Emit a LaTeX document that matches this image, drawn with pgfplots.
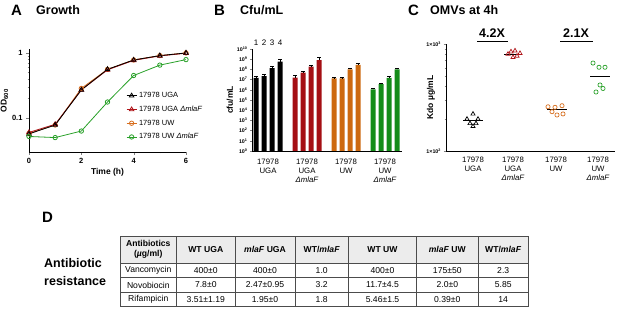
\documentclass[border=0pt]{standalone}
\usepackage{fontspec}
\setmainfont{Liberation Sans}
\setsansfont{Liberation Sans}
\usepackage{pgfplots}
\pgfplotsset{compat=1.18}
\definecolor{cred}{RGB}{175,20,25}
\definecolor{cora}{RGB}{215,110,30}
\definecolor{cgrn}{RGB}{40,160,40}
\definecolor{bred}{RGB}{165,15,20}
\definecolor{bora}{RGB}{205,105,15}
\definecolor{bgrn}{RGB}{20,140,25}
\newcommand{\fs}[1]{\fontsize{#1}{#1}\selectfont}
\begin{document}
\begin{tikzpicture}[x=1pt,y=1pt]
\path[use as bounding box] (0,0) rectangle (617,310);
% panel titles
\node[anchor=west,font=\fs{15}\bfseries,inner sep=0pt] at (11,300) {A};
\node[anchor=west,font=\fs{12.5}\bfseries,inner sep=0pt] at (36,300) {Growth};
\node[anchor=west,font=\fs{15}\bfseries,inner sep=0pt] at (214,300) {B};
\node[anchor=west,font=\fs{12.5}\bfseries,inner sep=0pt] at (240,300) {Cfu/mL};
\node[anchor=west,font=\fs{15}\bfseries,inner sep=0pt] at (408,300) {C};
\node[anchor=west,font=\fs{12.5}\bfseries,inner sep=0pt] at (430,300) {OMVs at 4h};
\node[anchor=west,font=\fs{15}\bfseries,inner sep=0pt] at (42,93) {D};

% ---------------- Panel A ----------------
\begin{axis}[at={(29pt,158pt)}, anchor=south west, scale only axis,
  width=157pt, height=103pt,
  xmin=0, xmax=6, ymode=log, ymin=0.03, ymax=1.15,
  axis x line*=bottom, axis y line*=left,
  xtick={0,2,4,6}, minor xtick={1,3,5},
  ytick={0.1,1}, yticklabels={0.1,1},
  /pgf/number format/assume math mode=true,
  tick label style={font=\fs{7.5}\bfseries},
  xlabel={\textbf{Time (h)}}, ylabel={\textbf{OD\textsubscript{600}}},
  label style={font=\fs{8.5}},
  xlabel style={yshift=2pt},
  ylabel style={at={(axis description cs:-0.11,0.5)}, anchor=south},
  tick align=outside, major tick length=3pt, minor tick length=1.5pt,
  clip=false,
  legend style={at={(0.618,0.60)}, anchor=north west, draw=none, fill=none,
    font=\fs{7.5}, row sep=2.9pt, inner sep=0pt, cells={anchor=west}},
  legend image code/.code={\draw[mark repeat=2,mark phase=2,#1] plot coordinates {(0pt,0pt) (5pt,0pt) (10pt,0pt)};},
]
\addlegendimage{black, line width=0.8pt, mark=triangle, mark size=2.6pt}
\addlegendentry{17978 UGA}
\addlegendimage{cred, line width=0.8pt, mark=triangle, mark size=2.6pt}
\addlegendentry{17978 UGA \textit{ΔmlaF}}
\addlegendimage{cora, line width=0.8pt, mark=o, mark size=2.2pt}
\addlegendentry{17978 UW}
\addlegendimage{cgrn, line width=0.8pt, mark=o, mark size=2.2pt}
\addlegendentry{17978 UW \textit{ΔmlaF}}
\addplot[forget plot, cora, line width=0.8pt, mark=o, mark size=2.2pt] coordinates {(0,0.058)(1,0.078)(2,0.285)(3,0.56)(4,0.78)(5,0.91)(6,1.0)};
\addplot[forget plot, cred, line width=0.8pt, mark=triangle, mark size=2.6pt] coordinates {(0,0.060)(1,0.080)(2,0.27)(3,0.55)(4,0.77)(5,0.90)(6,0.99)};
\addplot[forget plot, black, line width=0.8pt, mark=triangle, mark size=2.6pt] coordinates {(0,0.057)(1,0.078)(2,0.27)(3,0.56)(4,0.78)(5,0.91)(6,1.0)};
\addplot[forget plot, cgrn, line width=0.8pt, mark=o, mark size=2.2pt] coordinates {(0,0.052)(1,0.050)(2,0.063)(3,0.176)(4,0.45)(5,0.65)(6,0.79)};
\end{axis}

% ---------------- Panel B ----------------
\begin{axis}[at={(252pt,159pt)}, anchor=south west, scale only axis,
  width=150pt, height=102pt,
  xmin=252, xmax=402, ymode=log, ymin=1, ymax=1e10,
  axis x line*=bottom, axis y line*=left,
  ytick={1,10,100,1000,1e4,1e5,1e6,1e7,1e8,1e9,1e10},
  yticklabels={10\textsuperscript{0},10\textsuperscript{1},10\textsuperscript{2},10\textsuperscript{3},10\textsuperscript{4},10\textsuperscript{5},10\textsuperscript{6},10\textsuperscript{7},10\textsuperscript{8},10\textsuperscript{9},10\textsuperscript{10}},
  yminorticks=false,
  yticklabel style={font=\fs{5.3}\bfseries, xshift=1pt},
  xtick={268,307,346,385},
  xticklabels={17978\\UGA, 17978\\UGA\\\textit{ΔmlaF}, 17978\\UW, 17978\\UW\\\textit{ΔmlaF}},
  xticklabel style={align=center, font=\fontsize{7.8}{9}\selectfont, yshift=-3pt},
  xtick style={draw=none},
  tick align=outside, major tick length=2pt,
  ylabel={\textbf{cfu/mL}}, ylabel style={font=\fs{8.5}, yshift=-3pt},
  ybar, bar width=5, bar shift=0pt,
  clip=false,
  error bars/y dir=plus, error bars/y explicit relative,
  error bars/error bar style={black, line width=0.7pt},
  error bars/error mark options={black, rotate=90, mark size=1.6pt, line width=0.7pt},
]
\addplot[fill=black, draw=none] coordinates {(256,1.5e7) +- (0,0.4) (264,2.2e7) +- (0,0.45) (272,1.3e8) +- (0,0.4) (280,5.8e8) +- (0,0.7)};
\addplot[fill=bred, draw=none] coordinates {(295,1.6e7) +- (0,0.5) (303,4.8e7) +- (0,0.45) (311,1.9e8) +- (0,0.35) (319,8.3e8) +- (0,0.8)};
\addplot[fill=bora, draw=none] coordinates {(334,1.3e7) +- (0,0.2) (342,1.3e7) +- (0,0.2) (350,1.0e8) +- (0,0.35) (358,2.7e8) +- (0,0.3)};
\addplot[fill=bgrn, draw=none] coordinates {(373,1.1e6) +- (0,0.35) (381,3.5e6) +- (0,0.35) (389,1.5e7) +- (0,0.3) (397,1.0e8) +- (0,0.25)};
\node[font=\fs{8}] at (axis cs:256,3.9e10) {1};
\node[font=\fs{8}] at (axis cs:264,3.9e10) {2};
\node[font=\fs{8}] at (axis cs:272,3.9e10) {3};
\node[font=\fs{8}] at (axis cs:280,3.9e10) {4};
\end{axis}

% ---------------- Panel C ----------------
\begin{axis}[at={(446pt,159pt)}, anchor=south west, scale only axis,
  width=169pt, height=107pt,
  xmin=446, xmax=615, ymode=log, ymin=100, ymax=1000,
  axis x line*=bottom, axis y line*=left,
  ytick={100,1000},
  yticklabels={1×10\textsuperscript{2},1×10\textsuperscript{3}},
  yticklabel style={font=\fs{5.3}\bfseries, xshift=1pt},
  xtick={473,513,556,598},
  xticklabels={17978\\UGA, 17978\\UGA\\\textit{ΔmlaF}, 17978\\UW, 17978\\UW\\\textit{ΔmlaF}},
  xticklabel style={align=center, font=\fontsize{7.8}{9}\selectfont},
  xtick style={draw=none},
  tick align=outside, major tick length=2.5pt, minor tick length=1.5pt,
  ylabel={\textbf{Kdo µg/mL}}, ylabel style={font=\fs{8.5}, at={(axis description cs:-0.045,0.5)}, anchor=south},
  clip=false,
]
\addplot[only marks, black, mark=triangle, mark size=2.4pt, line width=0.7pt] coordinates {(473,222)(467,199)(478,199)(470,181)(476,181)(473,170)};
\addplot[only marks, cred, mark=triangle, mark size=2.4pt, line width=0.7pt] coordinates {(511,847)(515,865)(520,819)(508,806)(517,773)(513,751)};
\addplot[only marks, cora, mark=o, mark size=2.1pt, line width=0.7pt] coordinates {(548,259)(555,256)(562,265)(552,233)(557,217)(563,222)};
\addplot[only marks, cgrn, mark=o, mark size=2.1pt, line width=0.7pt] coordinates {(593,664)(599,606)(605,606)(600,414)(603,384)(596,356)};
\addplot[black, line width=1pt, no marks] coordinates {(463,192)(483,192)};
\addplot[black, line width=1pt, no marks] coordinates {(504,802)(522,802)};
\addplot[black, line width=1pt, no marks] coordinates {(547,242)(567,242)};
\addplot[black, line width=1pt, no marks] coordinates {(590,502)(610,502)};
\end{axis}
\node[font=\fs{12.5}\bfseries] at (492,277) {4.2X};
\draw[line width=1.3pt] (477,268.3) -- (508,268.3);
\node[font=\fs{12.5}\bfseries] at (576,277) {2.1X};
\draw[line width=1.3pt] (560,268.3) -- (593,268.3);

% ---------------- Panel D (table) ----------------
\node[anchor=west,font=\fs{12.5}\bfseries,inner sep=0pt] at (44,47) {Antibiotic};
\node[anchor=west,font=\fs{12.5}\bfseries,inner sep=0pt] at (44,29) {resistance};
\fill[gray!15] (120,46.7) rectangle (528.3,74);
\begin{scope}[draw=gray!60!black, line width=0.6pt]
\draw (120,3.3) rectangle (528.3,74);
\foreach \yy in {46.7,32.3,17.7} \draw (120,\yy) -- (528.3,\yy);
\foreach \xx in {176.7,235,295,348.3,416.7,478} \draw (\xx,3.3) -- (\xx,74);
\end{scope}
\begin{scope}[every node/.style={font=\fontsize{8.6}{10}\selectfont, align=center, inner sep=0pt}]
\node at (148.3,60.3) {\textbf{Antibiotics}\\\textbf{(\textit{µ}g/ml)}};
\node at (205.8,60.3) {\textbf{WT UGA}};
\node at (265,60.3) {\textbf{\textit{mlaF} UGA}};
\node at (321.7,60.3) {\textbf{WT/\textit{mlaF}}};
\node at (382.5,60.3) {\textbf{WT UW}};
\node at (447.3,60.3) {\textbf{\textit{mlaF} UW}};
\node at (503.2,60.3) {\textbf{WT/\textit{mlaF}}};
\node at (148.3,39.5) {Vancomycin};
\node at (205.8,39.5) {400±0};
\node at (265,39.5) {400±0};
\node at (321.7,39.5) {1.0};
\node at (382.5,39.5) {400±0};
\node at (447.3,39.5) {175±50};
\node at (503.2,39.5) {2.3};
\node at (148.3,25) {Novobiocin};
\node at (205.8,25) {7.8±0};
\node at (265,25) {2.47±0.95};
\node at (321.7,25) {3.2};
\node at (382.5,25) {11.7±4.5};
\node at (447.3,25) {2.0±0};
\node at (503.2,25) {5.85};
\node at (148.3,10.5) {Rifampicin};
\node at (205.8,10.5) {3.51±1.19};
\node at (265,10.5) {1.95±0};
\node at (321.7,10.5) {1.8};
\node at (382.5,10.5) {5.46±1.5};
\node at (447.3,10.5) {0.39±0};
\node at (503.2,10.5) {14};
\end{scope}
\end{tikzpicture}
\end{document}
